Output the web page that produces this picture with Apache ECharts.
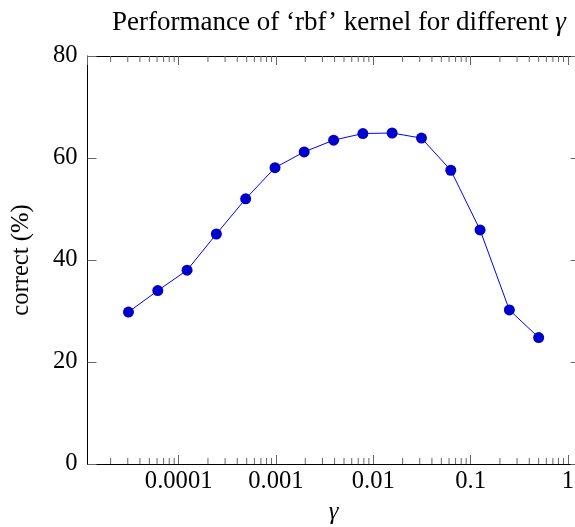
<!DOCTYPE html>
<html><head><meta charset="utf-8">
<script src="https://cdn.jsdelivr.net/npm/echarts@6/dist/echarts.min.js"></script>
<style>html,body{margin:0;padding:0;background:#fff}#c{width:575px;height:527px}</style>
</head><body><div id="c"></div>
<script>
// gamma values (x) and accuracy (y)
const gammas = [0.0000305, 0.000061, 0.000122, 0.000244, 0.000488, 0.000977, 0.00195, 0.00391, 0.00781, 0.0156, 0.03125, 0.0625, 0.125, 0.25, 0.5];
const correct = [29.8, 34.0, 38.0, 45.1, 52.0, 58.1, 61.2, 63.5, 64.8, 64.9, 63.9, 57.6, 45.9, 30.2, 24.8];
const xTickLabels = ['0.0001', '0.001', '0.01', '0.1', '1']; // exponents -4..0
const yTicks = [0, 20, 40, 60, 80];
const minorMantissas = [2, 3, 4, 5, 6, 7, 8, 9];
const minorDecades = [0.00001, 0.0001, 0.001, 0.01, 0.1];
const xMin = 0.00001157, xMax = 1.32;

const minorTicks = [];
minorDecades.forEach(d => minorMantissas.forEach(m => {
  const v = +(m * d).toPrecision(6);
  if (v > xMin && v < xMax) minorTicks.push([v, 0]);
}));

const FONT = 'Liberation Serif';
const FS = 24.6;

function xLabel(v) {
  const e = v <= 0 ? v : Math.log10(v);
  const r = Math.round(e);
  if (Math.abs(e - r) > 1e-6) return '';
  const s = xTickLabels[r + 4];
  return s === undefined ? '' : s;
}

const tickStyle = { color: '#666', width: 1 };
const axisLine = { show: true, onZero: false, lineStyle: { color: '#000', width: 1 } };

const chart = echarts.init(document.getElementById('c'), null, { renderer: 'canvas' });
chart.setOption({
  animation: false,
  backgroundColor: '#fff',
  title: {
    text: 'Performance of ‘rbf’ kernel for different {g|γ}',
    left: 334, top: 4, textAlign: 'center',
    textStyle: {
      fontFamily: FONT, fontSize: 27, fontWeight: 'normal', color: '#000',
      rich: { g: { fontFamily: FONT, fontSize: 27, fontStyle: 'italic', color: '#000' } }
    }
  },
  grid: { left: 87.5, right: -4.7, top: 56, bottom: 63, containLabel: false, outerBoundsMode: 'none' },
  xAxis: [{
    type: 'log', min: xMin, max: xMax, splitNumber: 5, position: 'bottom',
    axisLine: axisLine,
    axisTick: { show: true, inside: true, length: 9, lineStyle: tickStyle },
    axisLabel: { fontFamily: FONT, fontSize: FS, color: '#000', margin: 5, formatter: xLabel, showMinLabel: false, showMaxLabel: false, hideOverlap: false },
    splitLine: { show: false },
    name: 'γ', nameLocation: 'middle', nameGap: 36,
    nameTextStyle: { fontFamily: FONT, fontSize: FS, fontStyle: 'italic', color: '#000' }
  }, {
    type: 'log', min: xMin, max: xMax, splitNumber: 5, position: 'top',
    axisLine: axisLine,
    axisTick: { show: true, inside: true, length: 9, lineStyle: tickStyle },
    axisLabel: { show: false },
    splitLine: { show: false }
  }],
  yAxis: [{
    type: 'value', min: yTicks[0], max: yTicks[yTicks.length - 1], interval: 20, position: 'left',
    axisLine: axisLine,
    axisTick: { show: true, inside: true, length: 9, lineStyle: tickStyle },
    axisLabel: { fontFamily: FONT, fontSize: FS, color: '#000', margin: 10 },
    splitLine: { show: false },
    name: 'correct (%)', nameLocation: 'middle', nameGap: 53, nameRotate: 90,
    nameTextStyle: { fontFamily: FONT, fontSize: FS, color: '#000' }
  }, {
    type: 'value', min: yTicks[0], max: yTicks[yTicks.length - 1], interval: 20, position: 'right',
    axisLine: axisLine,
    axisTick: { show: true, inside: true, length: 9, lineStyle: tickStyle },
    axisLabel: { show: false },
    splitLine: { show: false }
  }],
  series: [{
    type: 'custom',
    xAxisIndex: 0, yAxisIndex: 0,
    silent: true, clip: false, z: 1,
    data: minorTicks,
    encode: { x: 0, y: 1 },
    renderItem: function (params, api) {
      const cs = params.coordSys;
      const x = api.coord([api.value(0), 0])[0];
      const top = cs.y, bot = cs.y + cs.height;
      return {
        type: 'group',
        children: [
          { type: 'line', shape: { x1: x, y1: bot, x2: x, y2: bot - 6 }, style: { stroke: '#666', lineWidth: 1 } },
          { type: 'line', shape: { x1: x, y1: top, x2: x, y2: top + 6 }, style: { stroke: '#666', lineWidth: 1 } }
        ]
      };
    }
  }, {
    type: 'line',
    xAxisIndex: 0, yAxisIndex: 0, z: 3,
    data: gammas.map((g, i) => [g, correct[i]]),
    symbol: 'circle', symbolSize: 11, showSymbol: true,
    itemStyle: { color: '#0000cc' },
    lineStyle: { color: '#0000ff', width: 1 }
  }]
});
</script>
</body></html>
